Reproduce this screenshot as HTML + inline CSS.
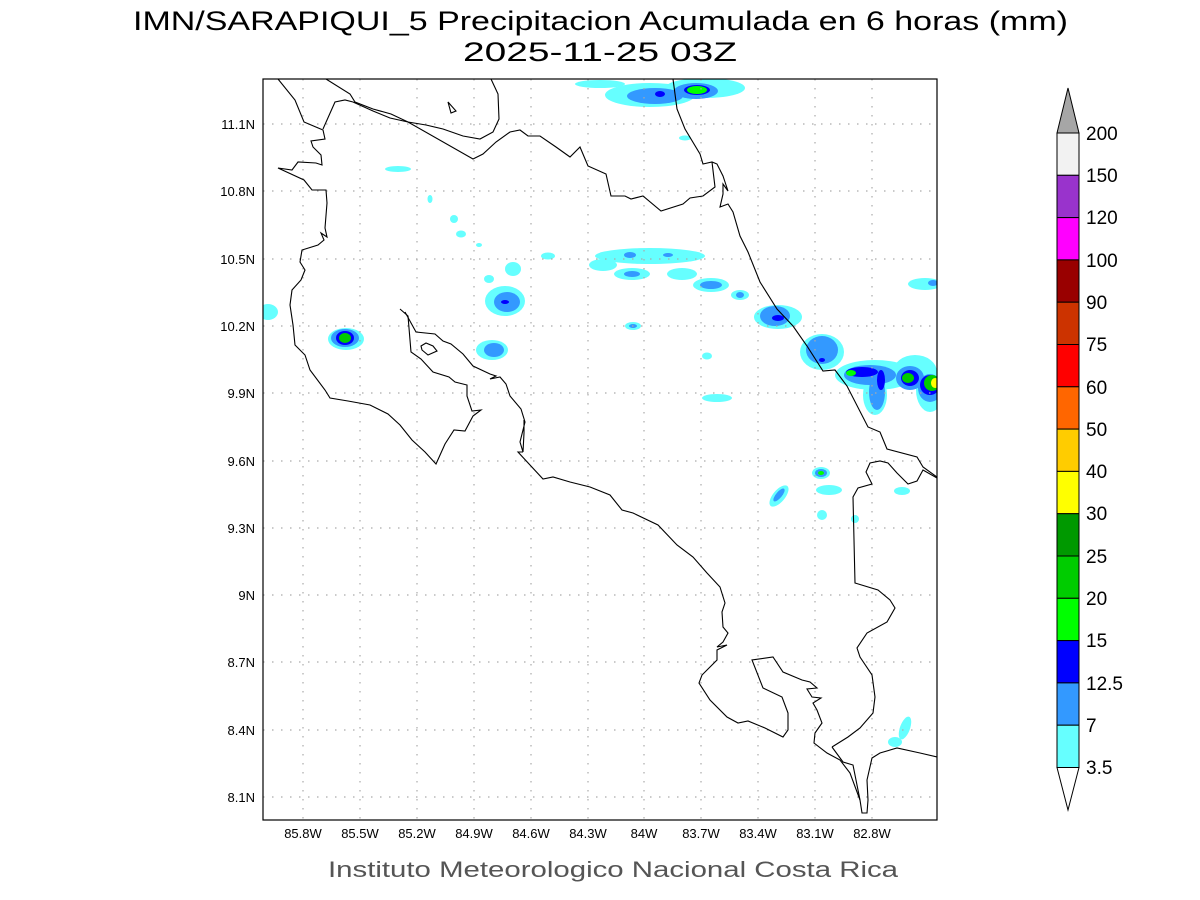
<!DOCTYPE html>
<html><head><meta charset="utf-8"><style>
html,body{margin:0;padding:0;background:#fff;width:1200px;height:900px;overflow:hidden}
svg{display:block}
text{font-family:"Liberation Sans",sans-serif}
</style></head><body>
<svg width="1200" height="900" viewBox="0 0 1200 900" xmlns="http://www.w3.org/2000/svg">
<text x="133" y="30" font-size="27" textLength="935" lengthAdjust="spacingAndGlyphs" fill="#000">IMN/SARAPIQUI_5 Precipitacion Acumulada en 6 horas (mm)</text>
<text x="463" y="61" font-size="27" textLength="274" lengthAdjust="spacingAndGlyphs" fill="#000">2025-11-25 03Z</text>
<defs><clipPath id="c"><rect x="263" y="79" width="674" height="741"/></clipPath></defs>
<g clip-path="url(#c)">
<g>
<ellipse cx="650" cy="95" rx="45" ry="12" fill="#66ffff"/>
<ellipse cx="705" cy="88" rx="40" ry="10" fill="#66ffff"/>
<ellipse cx="600" cy="84" rx="25" ry="4" fill="#66ffff"/>
<ellipse cx="655" cy="96" rx="28" ry="8" fill="#3399ff"/>
<ellipse cx="696" cy="91" rx="22" ry="8" fill="#3399ff"/>
<ellipse cx="697" cy="90" rx="13" ry="5" fill="#0000ff"/>
<ellipse cx="697" cy="90" rx="10" ry="4" fill="#00ff00"/>
<ellipse cx="660" cy="94" rx="5" ry="3" fill="#0000ff"/>
<ellipse cx="685" cy="138" rx="6" ry="2.5" fill="#66ffff"/>
<ellipse cx="398" cy="169" rx="13" ry="3" fill="#66ffff"/>
<ellipse cx="430" cy="199" rx="2.5" ry="4" fill="#66ffff"/>
<ellipse cx="454" cy="219" rx="4" ry="4" fill="#66ffff"/>
<ellipse cx="461" cy="234" rx="5" ry="3.5" fill="#66ffff"/>
<ellipse cx="479" cy="245" rx="3" ry="2" fill="#66ffff"/>
<ellipse cx="548" cy="256" rx="7" ry="3.5" fill="#66ffff"/>
<ellipse cx="650" cy="256" rx="55" ry="8" fill="#66ffff"/>
<ellipse cx="603" cy="265" rx="14" ry="6" fill="#66ffff"/>
<ellipse cx="630" cy="255" rx="6" ry="3" fill="#3399ff"/>
<ellipse cx="668" cy="255" rx="5" ry="2" fill="#3399ff"/>
<ellipse cx="632" cy="274" rx="18" ry="6" fill="#66ffff"/>
<ellipse cx="632" cy="274" rx="8" ry="3" fill="#3399ff"/>
<ellipse cx="682" cy="274" rx="15" ry="6" fill="#66ffff"/>
<ellipse cx="711" cy="285" rx="18" ry="7" fill="#66ffff"/>
<ellipse cx="711" cy="285" rx="11" ry="4" fill="#3399ff"/>
<ellipse cx="740" cy="295" rx="9" ry="5" fill="#66ffff"/>
<ellipse cx="740" cy="295" rx="4" ry="3" fill="#3399ff"/>
<ellipse cx="513" cy="269" rx="8" ry="7" fill="#66ffff"/>
<ellipse cx="489" cy="279" rx="5" ry="4" fill="#66ffff"/>
<ellipse cx="505" cy="301" rx="20" ry="15" fill="#66ffff"/>
<ellipse cx="507" cy="302" rx="13" ry="10" fill="#3399ff"/>
<ellipse cx="505" cy="302" rx="4" ry="2" fill="#0000ff"/>
<ellipse cx="492" cy="350" rx="16" ry="10" fill="#66ffff"/>
<ellipse cx="494" cy="350" rx="10" ry="7" fill="#3399ff"/>
<ellipse cx="346" cy="339" rx="18" ry="11" fill="#66ffff"/>
<ellipse cx="345" cy="338" rx="14" ry="9" fill="#3399ff"/>
<ellipse cx="345" cy="338" rx="9" ry="7" fill="#0000ff"/>
<ellipse cx="345" cy="338" rx="6" ry="5" fill="#00cc00"/>
<ellipse cx="268" cy="312" rx="10" ry="8" fill="#66ffff"/>
<ellipse cx="633" cy="326" rx="8" ry="4" fill="#66ffff"/>
<ellipse cx="633" cy="326" rx="4" ry="2" fill="#3399ff"/>
<ellipse cx="707" cy="356" rx="5" ry="3.5" fill="#66ffff"/>
<ellipse cx="717" cy="398" rx="15" ry="4" fill="#66ffff"/>
<ellipse cx="778" cy="317" rx="24" ry="12" fill="#66ffff"/>
<ellipse cx="775" cy="316" rx="15" ry="10" fill="#3399ff"/>
<ellipse cx="778" cy="318" rx="6" ry="3" fill="#0000ff"/>
<ellipse cx="822" cy="352" rx="22" ry="18" fill="#66ffff"/>
<ellipse cx="822" cy="350" rx="16" ry="14" fill="#3399ff"/>
<ellipse cx="822" cy="360" rx="3" ry="2" fill="#0000ff"/>
<ellipse cx="875" cy="375" rx="40" ry="15" fill="#66ffff"/>
<ellipse cx="875" cy="395" rx="12" ry="20" fill="#66ffff"/>
<ellipse cx="915" cy="372" rx="22" ry="17" fill="#66ffff"/>
<ellipse cx="930" cy="390" rx="14" ry="22" fill="#66ffff"/>
<ellipse cx="870" cy="375" rx="26" ry="10" fill="#3399ff"/>
<ellipse cx="877" cy="392" rx="8" ry="18" fill="#3399ff"/>
<ellipse cx="910" cy="378" rx="14" ry="12" fill="#3399ff"/>
<ellipse cx="930" cy="388" rx="12" ry="14" fill="#3399ff"/>
<ellipse cx="862" cy="372" rx="16" ry="5" fill="#0000ff"/>
<ellipse cx="881" cy="380" rx="4" ry="10" fill="#0000ff"/>
<ellipse cx="910" cy="378" rx="9" ry="8" fill="#0000ff"/>
<ellipse cx="930" cy="385" rx="10" ry="10" fill="#0000ff"/>
<ellipse cx="851" cy="373" rx="5" ry="3" fill="#00ff00"/>
<ellipse cx="908" cy="378" rx="6" ry="5" fill="#00cc00"/>
<ellipse cx="932" cy="383" rx="8" ry="8" fill="#00cc00"/>
<ellipse cx="935" cy="383" rx="4" ry="5" fill="#ffff00"/>
<ellipse cx="925" cy="284" rx="17" ry="6" fill="#66ffff"/>
<ellipse cx="933" cy="283" rx="5" ry="3" fill="#3399ff"/>
<ellipse cx="821" cy="473" rx="9" ry="6" fill="#66ffff"/>
<ellipse cx="821" cy="473" rx="6" ry="4" fill="#3399ff"/>
<ellipse cx="821" cy="473" rx="3" ry="2" fill="#00ff00"/>
<ellipse cx="779" cy="496" rx="6" ry="13" transform="rotate(40 779 496)" fill="#66ffff"/>
<ellipse cx="779" cy="495" rx="3" ry="8" transform="rotate(40 779 495)" fill="#3399ff"/>
<ellipse cx="829" cy="490" rx="13" ry="5" fill="#66ffff"/>
<ellipse cx="822" cy="515" rx="5" ry="5" fill="#66ffff"/>
<ellipse cx="855" cy="519" rx="4" ry="4" fill="#66ffff"/>
<ellipse cx="902" cy="491" rx="8" ry="4" fill="#66ffff"/>
<ellipse cx="905" cy="728" rx="5" ry="12" transform="rotate(20 905 728)" fill="#66ffff"/>
<ellipse cx="895" cy="742" rx="7" ry="5" fill="#66ffff"/>
</g>
<g stroke="#aaa" stroke-width="1.2" stroke-dasharray="1.5,7.5">
<line x1="303" y1="79" x2="303" y2="820"/><line x1="360" y1="79" x2="360" y2="820"/><line x1="417" y1="79" x2="417" y2="820"/><line x1="474" y1="79" x2="474" y2="820"/><line x1="531" y1="79" x2="531" y2="820"/><line x1="588" y1="79" x2="588" y2="820"/><line x1="644" y1="79" x2="644" y2="820"/><line x1="701" y1="79" x2="701" y2="820"/><line x1="758" y1="79" x2="758" y2="820"/><line x1="815" y1="79" x2="815" y2="820"/><line x1="872" y1="79" x2="872" y2="820"/>
<line x1="263" y1="124" x2="937" y2="124"/><line x1="263" y1="191" x2="937" y2="191"/><line x1="263" y1="259" x2="937" y2="259"/><line x1="263" y1="326" x2="937" y2="326"/><line x1="263" y1="393" x2="937" y2="393"/><line x1="263" y1="461" x2="937" y2="461"/><line x1="263" y1="528" x2="937" y2="528"/><line x1="263" y1="595" x2="937" y2="595"/><line x1="263" y1="662" x2="937" y2="662"/><line x1="263" y1="730" x2="937" y2="730"/><line x1="263" y1="797" x2="937" y2="797"/>
</g>
<g fill="none" stroke="#000" stroke-width="1.1">
<polyline points="278,79 295,100 304,122 323,130 325,139 311,141 313,147 321,155 322,165 316,163 298,162 292,170 278,168 304,180 312,190 326,190 327,203 325,228 327,237 321,233 324,240 318,245 302,250 300,262 305,270 301,280 292,290 290,305 293,325 295,345 305,355 310,370 325,390 330,398 348,401 370,405 388,414 400,425 412,440 425,452 436,464 445,444 454,430 465,431 473,416 481,410 472,411 467,396 467,385 455,382 449,377 433,372 421,359 411,352 408,316 400,309"/>
<polyline points="405,312 416,332 435,334 443,341 451,344 463,354 473,366 490,374 496,376 490,379 500,377 506,384 510,396 521,409 525,422 520,442 523,452 524,433 524,420"/>
<polyline points="523,452 518,452 530,465 543,479 553,477 570,482 590,487 610,495 622,510 633,513 658,525 677,545 693,557 707,573 720,587 725,603 722,612 723,627 728,633 723,642 717,647 727,645 717,650 717,660 702,675 699,683 710,700 727,717 738,723 748,721 765,728 783,737 788,730 788,713 782,697 763,688 752,660 773,657 783,672 802,680 810,682 817,688 807,689 812,697 821,698 813,703 817,710 822,723 815,733 814,743 827,753 840,760 850,773 860,800 862,813 867,813 868,800 867,780 872,758 880,753 897,748 920,753 937,757"/>
<polyline points="832,747 843,762 853,765 860,800"/>
<polyline points="832,747 848,737 860,728 873,713 875,697 872,675 860,657 857,648 867,633 887,622 895,608 890,600 878,590 855,583 853,497 858,488 872,484 866,472 870,463 880,461 888,463 897,473 908,484 917,481 923,470 937,478"/>
<polyline points="673,79 677,109 685,129 700,154 703,164 712,162 717,164 723,176 728,191 723,184 723,194 720,207 728,204 733,212 740,236 748,252 760,282 777,309 793,326 807,346 823,371 835,370 847,386 868,427 880,432 887,449 917,457 923,467 937,477"/>
<polyline points="712,162 715,187 703,196 690,198 683,204 661,211 643,196 631,199 625,196 611,196 606,174 588,166 580,147 570,157 556,147 540,136 528,136 520,130 510,132 496,142 483,154 473,159 408,122 390,118 373,111 353,102 345,100 335,102 323,129"/>
<polyline points="326,79 350,94 355,102 373,109 391,114 408,122 426,125 443,129 463,136 480,139 493,132 499,119 498,94 491,79"/>
<polygon points="448,102 451,113 456,111"/>
<polygon points="421,346 426,343 433,346 437,351 428,355 422,350"/>
</g>
</g>
<rect x="263" y="79" width="674" height="741" fill="none" stroke="#000" stroke-width="1.2"/>
<g font-size="13" text-anchor="end" fill="#000">
<text x="255" y="129">11.1N</text><text x="255" y="196">10.8N</text><text x="255" y="264">10.5N</text><text x="255" y="331">10.2N</text><text x="255" y="398">9.9N</text><text x="255" y="466">9.6N</text><text x="255" y="533">9.3N</text><text x="255" y="600">9N</text><text x="255" y="667">8.7N</text><text x="255" y="735">8.4N</text><text x="255" y="802">8.1N</text>
</g>
<g font-size="13" text-anchor="middle" fill="#000">
<text x="303" y="838">85.8W</text><text x="360" y="838">85.5W</text><text x="417" y="838">85.2W</text><text x="474" y="838">84.9W</text><text x="531" y="838">84.6W</text><text x="588" y="838">84.3W</text><text x="644" y="838">84W</text><text x="701" y="838">83.7W</text><text x="758" y="838">83.4W</text><text x="815" y="838">83.1W</text><text x="872" y="838">82.8W</text>
</g>
<text x="328" y="877" font-size="22" textLength="570" lengthAdjust="spacingAndGlyphs" fill="#555">Instituto Meteorologico Nacional Costa Rica</text>
<g stroke="#000" stroke-width="1">
<polygon points="1057,133 1068,88 1079,133" fill="#a6a6a6"/>
<rect x="1057" y="133" width="22" height="42.3" fill="#f2f2f2"/>
<rect x="1057" y="175.3" width="22" height="42.3" fill="#9933cc"/>
<rect x="1057" y="217.6" width="22" height="42.3" fill="#ff00ff"/>
<rect x="1057" y="259.9" width="22" height="42.3" fill="#990000"/>
<rect x="1057" y="302.2" width="22" height="42.3" fill="#cc3300"/>
<rect x="1057" y="344.5" width="22" height="42.3" fill="#ff0000"/>
<rect x="1057" y="386.8" width="22" height="42.3" fill="#ff6600"/>
<rect x="1057" y="429.1" width="22" height="42.3" fill="#ffcc00"/>
<rect x="1057" y="471.4" width="22" height="42.3" fill="#ffff00"/>
<rect x="1057" y="513.7" width="22" height="42.3" fill="#009900"/>
<rect x="1057" y="556" width="22" height="42.3" fill="#00cc00"/>
<rect x="1057" y="598.3" width="22" height="42.3" fill="#00ff00"/>
<rect x="1057" y="640.6" width="22" height="42.3" fill="#0000ff"/>
<rect x="1057" y="682.9" width="22" height="42.3" fill="#3399ff"/>
<rect x="1057" y="725.2" width="22" height="42.3" fill="#66ffff"/>
<polygon points="1057,767.5 1068,810 1079,767.5" fill="#fff"/>
</g>
<g font-size="19" fill="#000">
<text x="1086" y="140">200</text><text x="1086" y="182">150</text><text x="1086" y="224">120</text><text x="1086" y="267">100</text><text x="1086" y="309">90</text><text x="1086" y="351">75</text><text x="1086" y="394">60</text><text x="1086" y="436">50</text><text x="1086" y="478">40</text><text x="1086" y="520">30</text><text x="1086" y="563">25</text><text x="1086" y="605">20</text><text x="1086" y="647">15</text><text x="1086" y="690">12.5</text><text x="1086" y="732">7</text><text x="1086" y="774">3.5</text>
</g>
</svg>
</body></html>
